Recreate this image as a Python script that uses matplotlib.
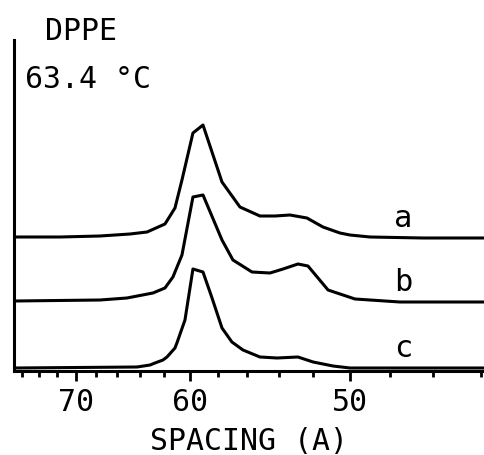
import numpy as np
import matplotlib
matplotlib.use("Agg")
import matplotlib.pyplot as plt
from matplotlib.ticker import FixedLocator, NullFormatter

plt.rcParams['font.family'] = ['DejaVu Sans Mono', 'DejaVu Sans']

# Small-angle diffraction profiles of DPPE at 63.4 C (arbitrary intensity units)
spacing_a = [76.96, 71.68, 67.63, 64.88, 63.42, 61.95, 61.16, 60.62, 59.79, 59.05,
             57.70, 56.48, 55.18, 54.24, 53.34, 52.35, 51.45, 50.53, 50.00, 48.98,
             46.46, 43.87]
intensity_a = [1, 1, 2, 4, 6, 14, 30, 58, 105, 113,
               56, 31, 22, 22, 23, 20, 11, 5, 3, 1,
               0, 0]

spacing_b = [76.84, 67.63, 65.15, 62.93, 61.95, 61.32, 60.62, 59.79, 59.05, 57.70,
             56.95, 55.69, 54.55, 53.75, 52.87, 52.29, 51.17, 49.74, 47.52, 43.87]
intensity_b = [1, 2, 4, 9, 14, 25, 47, 105, 107, 62,
               42, 30, 29, 33, 38, 36, 12, 3, 0, 0]

spacing_c = [76.84, 64.27, 63.17, 62.76, 62.11, 61.79, 61.16, 61.01, 60.39, 59.79,
             59.05, 58.40, 57.70, 57.02, 56.28, 55.18, 54.12, 52.87, 52.00, 50.90,
             50.00, 43.87]
intensity_c = [0, 1, 3, 5, 8, 11, 20, 25, 48, 99,
               96, 70, 40, 26, 18, 11, 10, 11, 6, 2,
               0, 0]

curve_labels = ['a', 'b', 'c']
curve_offsets = [133, 69, 3]

major_ticks = [70, 60, 50]
minor_ticks = [76, 74, 72, 68, 66, 64, 62, 58, 56, 54, 52, 48, 46, 44]

x_label = 'SPACING (A)'
title_lines = ['DPPE', '63.4 °C']


def to_recip(d):
    with np.errstate(divide='ignore', invalid='ignore'):
        return -1.0 / np.asarray(d, dtype=float)


def from_recip(q):
    with np.errstate(divide='ignore', invalid='ignore'):
        return -1.0 / np.asarray(q, dtype=float)


W, H = 484, 455
fig = plt.figure(figsize=(W / 100, H / 100), dpi=100)
ax = fig.add_axes([14 / W, 1 - 371 / H, 1 - 14 / W, (371 - 40) / H])

ax.set_xscale('function', functions=(to_recip, from_recip))

series = [(spacing_a, intensity_a), (spacing_b, intensity_b), (spacing_c, intensity_c)]
for (sx, sy), off in zip(series, curve_offsets):
    ax.plot(sx, np.asarray(sy) + off, color='black', lw=2.2,
            solid_joinstyle='round', solid_capstyle='round')

label_d = 47.38
for lab, off in zip(curve_labels, curve_offsets):
    ax.text(label_d, off + 11, lab, ha='center', va='baseline', fontsize=22)

ax.set_xlim(76.96, 43.87)
ax.set_ylim(0, 331)

ax.xaxis.set_major_locator(FixedLocator(major_ticks))
ax.xaxis.set_minor_locator(FixedLocator(minor_ticks))
ax.xaxis.set_minor_formatter(NullFormatter())
ax.set_xticklabels([str(t) for t in major_ticks])
ax.tick_params(axis='x', which='major', direction='out', length=7.5, width=2,
               labelsize=21.5, pad=5)
ax.tick_params(axis='x', which='minor', direction='out', length=4, width=2)
ax.set_yticks([])

for side in ('top', 'right'):
    ax.spines[side].set_visible(False)
for side in ('left', 'bottom'):
    ax.spines[side].set_linewidth(2.2)

ax.set_xlabel(x_label, fontsize=21.5, labelpad=7)

fig.text(45 / W, 1 - 40 / H, title_lines[0], ha='left', va='baseline', fontsize=21.5)
fig.text(25 / W, 1 - 88 / H, title_lines[1], ha='left', va='baseline', fontsize=21.5)

fig.savefig('out.png', dpi=100, facecolor='white')
